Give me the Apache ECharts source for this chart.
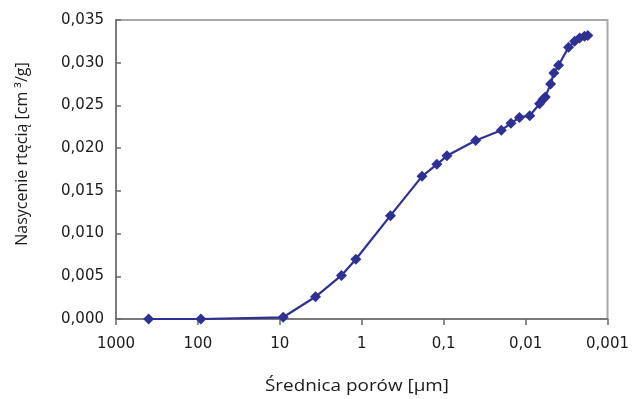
<!DOCTYPE html>
<html>
<head>
<meta charset="utf-8">
<script src="https://cdn.jsdelivr.net/npm/echarts@6/dist/echarts.min.js"></script>
<style>
html,body{margin:0;padding:0;background:#fff;}
#c{width:632px;height:399px;}
</style>
</head>
<body>
<div id="c"></div>
<script>
// Pore diameter [µm]
var diameters = [400, 92, 9.1, 3.67, 1.77, 1.18, 0.447, 0.184, 0.121, 0.0912, 0.0407, 0.0198, 0.0151, 0.0119, 0.0089, 0.00675, 0.00615, 0.00575, 0.00496, 0.00452, 0.00396, 0.00299, 0.00252, 0.00219, 0.00191, 0.00174];
// Mercury saturation [cm3/g]
var saturation = [0.0000, 0.0000, 0.0002, 0.0026, 0.0051, 0.0070, 0.0121, 0.0167, 0.0181, 0.0191, 0.0209, 0.0221, 0.0229, 0.0236, 0.0238, 0.0252, 0.0257, 0.0260, 0.0275, 0.0288, 0.0297, 0.0318, 0.0325, 0.0329, 0.0331, 0.0332];
var xTickLabels = ['1000', '100', '10', '1', '0,1', '0,01', '0,001'];
var xTitle = 'Średnica porów [µm]';
var yTitle = 'Nasycenie rtęcią [cm ³/g]';

var points = diameters.map(function (d, i) { return [d, saturation[i]]; });

var chart = echarts.init(document.getElementById('c'), null, {renderer: 'canvas'});
var tickFont = 'DejaVu Sans';
chart.setOption({
  animation: false,
  backgroundColor: '#ffffff',
  grid: {
    left: 116, right: 24, top: 20, bottom: 80,
    show: true, borderColor: '#a8a8a8', borderWidth: 2, backgroundColor: 'transparent'
  },
  xAxis: {
    type: 'log', logBase: 10, min: 0.001, max: 1000, inverse: true,
    axisLine: {show: true, lineStyle: {color: '#6a6a6a', width: 1.5}},
    axisTick: {show: true, inside: false, length: 6, lineStyle: {color: '#6a6a6a', width: 1.5}},
    minorTick: {show: false},
    splitLine: {show: false},
    axisLabel: {
      margin: 18, fontFamily: tickFont, fontSize: 15, color: '#1a1a1a',
      formatter: function (v) {
        var e = Math.round(Math.log10(v));
        return xTickLabels[3 - e];
      }
    }
  },
  yAxis: {
    type: 'value', min: 0, max: 0.035, interval: 0.005,
    axisLine: {show: true, lineStyle: {color: '#6a6a6a', width: 1.5}},
    axisTick: {show: true, inside: true, length: 5, lineStyle: {color: '#6a6a6a', width: 1.5}},
    splitLine: {show: false},
    axisLabel: {
      margin: 12, fontFamily: tickFont, fontSize: 15, color: '#1a1a1a',
      formatter: function (v) { return v.toFixed(3).replace('.', ','); }
    }
  },
  graphic: [
    {
      type: 'text', x: 357, y: 386, scaleX: 1.18,
      style: {
        text: xTitle, fontFamily: 'Open Sans', fontSize: 16, fill: '#1a1a1a',
        textAlign: 'center', textVerticalAlign: 'middle'
      }
    },
    {
      type: 'text', x: 22, y: 154, rotation: Math.PI / 2,
      style: {
        text: yTitle, fontFamily: 'Open Sans', fontSize: 16, fill: '#1a1a1a',
        textAlign: 'center', textVerticalAlign: 'middle'
      }
    }
  ],
  series: [{
    type: 'line',
    data: points,
    symbol: 'diamond',
    symbolSize: 11,
    showAllSymbol: true,
    lineStyle: {color: '#2e3192', width: 2.2},
    itemStyle: {color: '#2e3192', borderWidth: 0},
    z: 5
  }]
});
</script>
</body>
</html>
